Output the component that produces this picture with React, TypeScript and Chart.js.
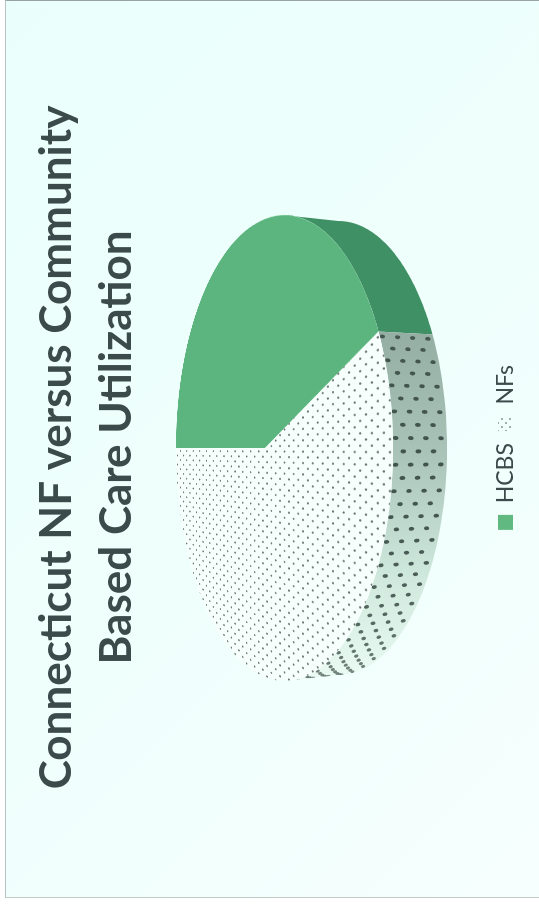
import React, { useEffect, useRef } from "react";
import { Chart, registerables } from "chart.js";

Chart.register(...registerables);

const categories = ["HCBS", "NFs"];
const shares = [43, 57];
const titleLines = ["Connecticut NF versus Community", "Based Care Utilization"];

const PAGE_W = 539;
const PAGE_H = 905;

// Tilted plane of the pie: unit circle (u, v) to page pixels.
const APEX_X = 265;
const APEX_Y = 448;
const TILT_A = 57.3;
const TILT_C = -0.18;
const TILT_D = 229;
const FACE_R = 300;
const DEPTH = 54;
const BASE_SCALE = 0.975;

const rim = (t: number) => {
  const u = Math.cos(t);
  const v = Math.sin(t);
  const w = 1 + TILT_C * u;
  return { x: (TILT_A * u + APEX_X) / w, y: (TILT_D * v) / w + APEX_Y };
};

// A point on the wall: z runs from the top rim (0) to the lower rim (1).
const wallPoint = (t: number, z: number) => {
  const p = rim(t);
  return { x: p.x + DEPTH * z, y: APEX_Y + (p.y - APEX_Y) * (1 - (1 - BASE_SCALE) * z) };
};

const dotTile = (w: number, h: number, rx: number, ry: number, dot: string, paper: string | null) => {
  const c = document.createElement("canvas");
  c.width = w;
  c.height = h;
  const g = c.getContext("2d")!;
  if (paper) {
    g.fillStyle = paper;
    g.fillRect(0, 0, w, h);
  }
  g.fillStyle = dot;
  for (const [x, y] of [
    [w / 4, h / 4],
    [(3 * w) / 4, (3 * h) / 4],
  ]) {
    g.beginPath();
    g.ellipse(x, y, rx, ry, 0, 0, Math.PI * 2);
    g.fill();
  }
  return g.createPattern(c, "repeat")!;
};

// Side wall of the pie, swept from the arc angles of the chart below the face.
const wallPlugin = {
  id: "pieWall",
  beforeDatasetsDraw(chart: any) {
    const arcs = chart.getDatasetMeta(0).data;
    const ctx: CanvasRenderingContext2D = chart.ctx;
    const limit = Math.acos(-TILT_C);
    ctx.save();
    ctx.transform(0, 1, -1, 0, PAGE_H, 0);
    arcs.forEach((arc: any, i: number) => {
      const from = Math.max(arc.startAngle, -limit);
      const to = Math.min(arc.endAngle, limit);
      if (to <= from) return;
      const steps = 80;
      ctx.save();
      ctx.beginPath();
      for (let s = 0; s <= steps; s++) {
        const p = wallPoint(from + ((to - from) * s) / steps, 0);
        s ? ctx.lineTo(p.x, p.y) : ctx.moveTo(p.x, p.y);
      }
      for (let s = steps; s >= 0; s--) {
        const p = wallPoint(from + ((to - from) * s) / steps, 1);
        ctx.lineTo(p.x, p.y);
      }
      ctx.closePath();
      if (i === 0) {
        ctx.fillStyle = "#3f9064";
      } else {
        const grad = ctx.createLinearGradient(0, 330, 0, 680);
        grad.addColorStop(0, "#95aea4");
        grad.addColorStop(0.35, "#a9c3b9");
        grad.addColorStop(0.7, "#cfe8dc");
        grad.addColorStop(1, "#eafbf3");
        ctx.fillStyle = grad;
      }
      ctx.fill();
      if (i === 1) {
        ctx.clip();
        ctx.filter = "blur(0.6px)";
        const dt = 0.048;
        let row = 0;
        for (let t = from + 0.02; t < to; t += dt, row++) {
          const u = Math.cos(t);
          const s = 0.45 + 0.55 * u;
          ctx.fillStyle = `rgba(60,78,72,${0.5 + 0.45 * u})`;
          for (let z = 0.05 + (row % 2) * 0.14; z < 1; z += 0.28) {
            const p = wallPoint(t, z);
            ctx.beginPath();
            ctx.ellipse(p.x, p.y, 2.4 * s + 0.4, 1.7 * s + 0.3, -0.45 * Math.sin(t), 0, Math.PI * 2);
            ctx.fill();
          }
        }
      }
      ctx.restore();
    });
    ctx.restore();
  },
};

export default function App() {
  const frameRef = useRef<HTMLCanvasElement>(null);
  const faceRef = useRef<HTMLCanvasElement>(null);

  useEffect(() => {
    const facePattern = dotTile(24, 14, 2.6, 1.2, "rgba(50,60,60,0.72)", "#f6fffc");
    const keyPattern = dotTile(8, 8, 0.9, 0.9, "#7d8886", null);

    const frame = new Chart(frameRef.current!, {
      type: "pie",
      data: {
        labels: categories,
        datasets: [{ data: shares, backgroundColor: ["#5fb981", keyPattern], borderWidth: 0 }],
      },
      plugins: [wallPlugin],
      options: {
        responsive: false,
        animation: false,
        rotation: -90,
        radius: 0,
        layout: { padding: { left: 10, bottom: 12 } },
        plugins: {
          tooltip: { enabled: false },
          title: {
            display: true,
            text: titleLines,
            color: "#3b4a4a",
            font: { family: "Lato", size: 44, weight: "bold", lineHeight: 1.364 },
            padding: { top: 27, bottom: 0 },
          },
          legend: {
            position: "bottom",
            labels: {
              boxWidth: 15,
              boxHeight: 15,
              padding: 12,
              color: "#3b4a4a",
              font: { family: "Lato", size: 23 },
            },
          },
        },
      },
    } as any);

    const face = new Chart(faceRef.current!, {
      type: "pie",
      data: {
        labels: categories,
        datasets: [{ data: shares, backgroundColor: ["#5cb57e", facePattern], borderWidth: 0 }],
      },
      options: {
        responsive: false,
        animation: false,
        rotation: -90,
        layout: { padding: 0 },
        plugins: { legend: { display: false }, title: { display: false }, tooltip: { enabled: false } },
      },
    } as any);

    return () => {
      frame.destroy();
      face.destroy();
    };
  }, []);

  // Homography taking the flat pie canvas onto the tilted plane.
  const faceMatrix = [
    TILT_A / FACE_R, (APEX_Y * TILT_C) / FACE_R, 0, TILT_C / FACE_R,
    0, TILT_D / FACE_R, 0, 0,
    0, 0, 1, 0,
    APEX_X - TILT_A, APEX_Y - TILT_D - APEX_Y * TILT_C, 0, 1 - TILT_C,
  ];

  return (
    <div
      style={{
        position: "absolute",
        left: 0,
        top: 0,
        width: PAGE_W,
        height: PAGE_H,
        overflow: "hidden",
        background: "#ffffff",
      }}
    >
      <div
        style={{
          position: "absolute",
          left: 5,
          top: 0,
          width: PAGE_W - 5,
          height: 898,
          boxSizing: "border-box",
          borderLeft: "1px solid #b9c2c2",
          borderTop: "1px solid #9aa3a3",
          borderBottom: "1px solid #c4caca",
          background: "linear-gradient(135deg, #eafffb 0%, #effffc 55%, #f6fffe 100%)",
        }}
      />
      <canvas
        ref={frameRef}
        width={PAGE_H}
        height={PAGE_W}
        style={{
          position: "absolute",
          left: 0,
          top: 0,
          transformOrigin: "0 0",
          transform: `translateY(${PAGE_H}px) rotate(-90deg)`,
        }}
      />
      <canvas
        ref={faceRef}
        width={FACE_R * 2}
        height={FACE_R * 2}
        style={{
          position: "absolute",
          left: 0,
          top: 0,
          transformOrigin: "0 0",
          transform: `matrix3d(${faceMatrix.join(",")})`,
        }}
      />
    </div>
  );
}
